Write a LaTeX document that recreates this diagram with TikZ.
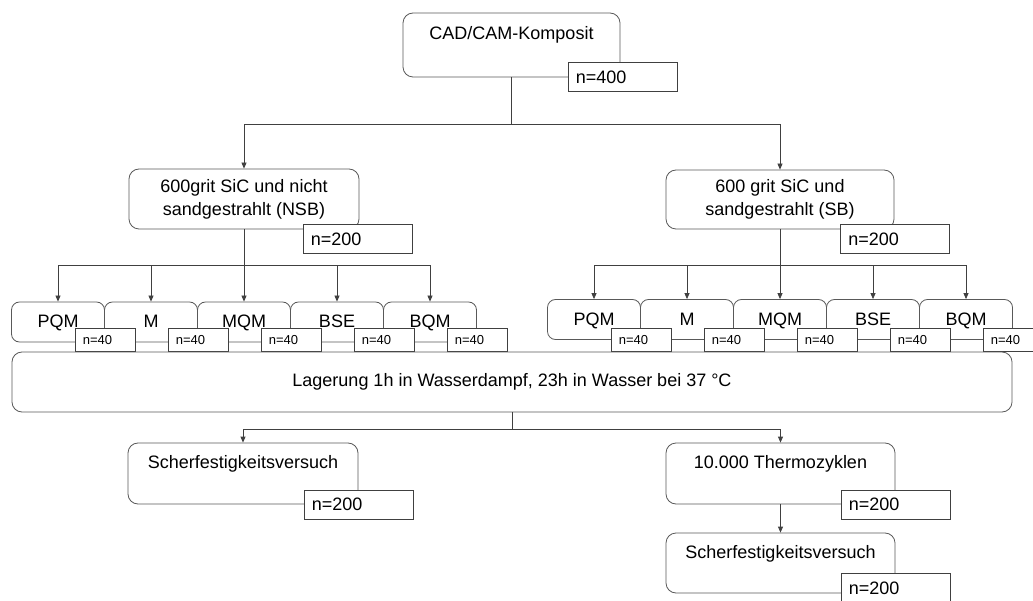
\documentclass[tikz,border=0pt]{standalone}
\usepackage{fontspec}
\setmainfont{Liberation Sans}
\usetikzlibrary{arrows.meta}

\tikzset{
  >={Triangle[length=6pt,width=5pt]},
  conn/.style={draw=black!75, line width=0.8pt},
  stage/.style={draw=black!65, line width=0.8pt, rounded corners=10pt, inner sep=0pt,
    align=center, font=\fontsize{18}{23}\selectfont},
  toptext/.style={text height=13pt, text depth=23pt},
  subbox/.style={draw=black!65, line width=0.8pt, rounded corners=8pt, minimum width=93pt,
    minimum height=40pt, inner sep=0pt, text height=13pt, text depth=1pt,
    font=\fontsize{18}{22}\selectfont},
  numbox/.style={draw=black!75, fill=white, line width=0.8pt, minimum height=29pt,
    text width=93pt, inner xsep=8pt, inner ysep=0pt, align=left,
    font=\fontsize{18}{22}\selectfont},
  smallnum/.style={numbox, minimum height=23pt, text width=44pt,
    font=\fontsize{13}{15}\selectfont},
}

\begin{document}
\begin{tikzpicture}[x=1pt, y=-1pt]
    \useasboundingbox (0,0) rectangle (1033,601);
    % Ausgangsmaterial
    \node[stage, toptext, minimum width=217pt, minimum height=64pt] (cad) at (511.5,45) {CAD/CAM-Komposit};
    \node[numbox] (n400) at ([xshift=2pt]cad.south east) {n=400};
    % Oberflaeche
    \node[stage, minimum width=230pt, minimum height=60pt] (nsb) at (244,199) {600grit SiC und nicht\\sandgestrahlt (NSB)\rule[-4pt]{0pt}{1pt}};
    \node[numbox] (nnsb) at ([xshift=-2pt,yshift=-9.5pt]nsb.south east) {n=200};
    \node[stage, minimum width=228pt, minimum height=59pt] (sb) at (780,199.5) {600 grit SiC und\\sandgestrahlt (SB)\rule[-4pt]{0pt}{1pt}};
    \node[numbox] (nsb2) at ([xshift=0.5pt,yshift=-9.5pt]sb.south east) {n=200};
    \draw[conn] (cad.south) -- ++(0,47) coordinate (split1);
    \draw[conn,->] (split1) -| (nsb.north);
    \draw[conn,->] (split1) -| (sb.north);
    % Gruppen links
    \draw[conn] (nsb.south) -- ++(0,36) coordinate (splitl);
    \foreach \lab [count=\i from 0] in {PQM,M,MQM,BSE,BQM}
        \node[subbox] (l\i) at ({58+93*\i},322) {\lab};
    \foreach \i in {0,...,4} {
        \draw[conn,->] (splitl) -| (l\i.north);
        \node[smallnum] (ln\i) at ([yshift=2.5pt]l\i.south east) {n=40};
    }
    % Gruppen rechts
    \draw[conn] (sb.south) -- ++(0,36) coordinate (splitr);
    \foreach \lab [count=\i from 0] in {PQM,M,MQM,BSE,BQM}
        \node[subbox] (r\i) at ({594+93*\i},319.5) {\lab};
    \foreach \i in {0,...,4} {
        \draw[conn,->] (splitr) -| (r\i.north);
        \node[smallnum] (rn\i) at (r\i.south east) {n=40};
    }
    % Lagerung
    \node[stage, minimum width=1000pt, minimum height=60pt] (store) at (512,382) {Lagerung 1h in Wasserdampf, 23h in Wasser bei 37 °C};
    \draw[conn] (store.south) -- ++(0,17) coordinate (split2);
    % Pruefung
    \node[stage, toptext, minimum width=230pt, minimum height=61pt] (scher1) at (243,473.5) {Scherfestigkeitsversuch};
    \node[numbox] (nscher1) at (scher1.south east) {n=200};
    \node[stage, toptext, minimum width=229pt, minimum height=61pt] (thermo) at (780.5,473.5) {10.000 Thermozyklen};
    \node[numbox] (nthermo) at (thermo.south east) {n=200};
    \node[stage, toptext, minimum width=229pt, minimum height=60pt] (scher2) at (780.5,563) {Scherfestigkeitsversuch};
    \node[numbox] (nscher2) at ([yshift=5.5pt]scher2.south east) {n=200};
    \draw[conn,->] (split2) -| (scher1.north);
    \draw[conn,->] (split2) -| (thermo.north);
    \draw[conn,->] (thermo.south) -- (scher2.north);
\end{tikzpicture}
\end{document}
